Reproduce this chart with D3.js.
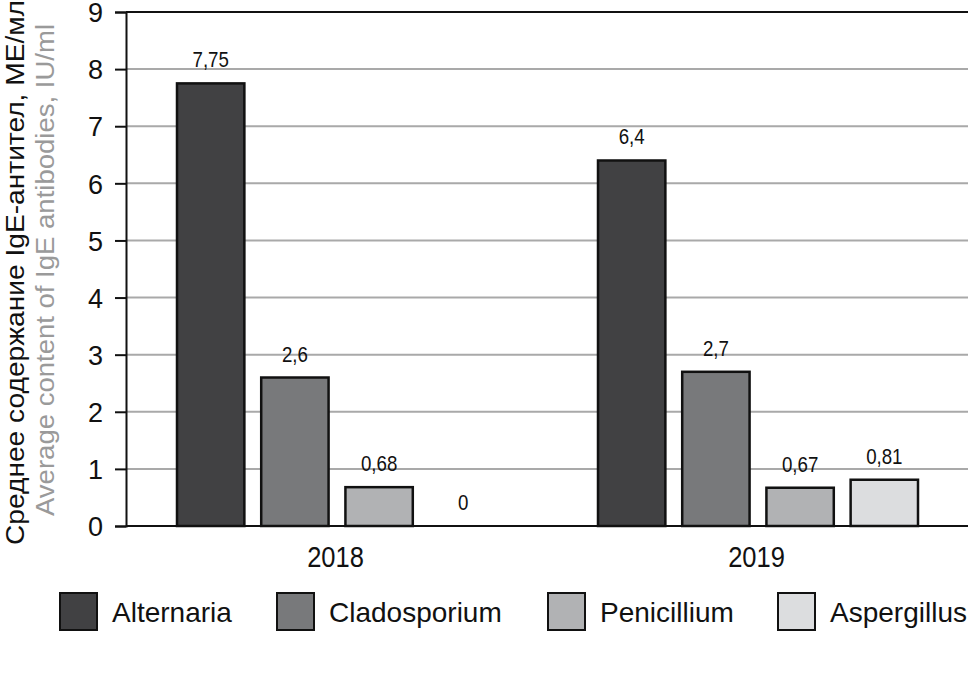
<!DOCTYPE html>
<html>
<head>
<meta charset="utf-8">
<script src="https://cdn.jsdelivr.net/npm/d3@7"></script>
<style>
  body { margin: 0; background: #fff; }
  text { font-family: "Liberation Sans", Arial, sans-serif; }
</style>
</head>
<body>
<script>
// data
const years = ['2018', '2019'];
const fungi = ['Alternaria', 'Cladosporium', 'Penicillium', 'Aspergillus'];
const values2018 = [7.75, 2.6, 0.68, 0];
const values2019 = [6.4, 2.7, 0.67, 0.81];
const valueLabels2018 = ['7,75', '2,6', '0,68', '0'];
const valueLabels2019 = ['6,4', '2,7', '0,67', '0,81'];
const yTicks = [0, 1, 2, 3, 4, 5, 6, 7, 8, 9];
const colors = ['#414143', '#78797b', '#b1b2b4', '#dcdddf'];

let rows = [];
years.forEach((yr, j) => {
    let vals = j == 0 ? values2018 : values2019;
    let labs = j == 0 ? valueLabels2018 : valueLabels2019;
    fungi.forEach((f, i) => {
        rows.push({ year: yr, fungus: f, value: vals[i], label: labs[i] });
    });
});

let W = 970, H = 676;
let plotLeft = 126, plotRight = 968, plotTop = 12, plotBottom = 526;
let narrow = 0.85; // the picture uses a condensed face

let svg = d3.select('body')
    .append('svg')
    .attr('width', W)
    .attr('height', H);

let y = d3.scaleLinear()
    .domain([0, 9])
    .range([plotBottom, plotTop]);

let x0 = d3.scaleBand()
    .domain(years)
    .range([plotLeft, plotRight]);

let x1 = d3.scaleBand()
    .domain(fungi)
    .range([51, 371])
    .paddingInner(0.2);

let color = d3.scaleOrdinal().domain(fungi).range(colors);

// grid lines
svg.append('g')
    .selectAll('line')
    .data(yTicks.filter(d => d > 0 && d < 9))
    .enter()
    .append('line')
    .attr('x1', plotLeft)
    .attr('x2', plotRight)
    .attr('y1', d => y(d))
    .attr('y2', d => y(d))
    .style('stroke', '#a9a9a9')
    .style('stroke-width', 2);

// top line
svg.append('line')
    .attr('x1', plotLeft).attr('x2', plotRight)
    .attr('y1', y(9)).attr('y2', y(9))
    .style('stroke', '#111').style('stroke-width', 2);

// y axis
let yAxis = svg.append('g')
    .attr('transform', `translate(${plotLeft},0)`)
    .call(d3.axisLeft(y).tickValues(yTicks).tickSize(11).tickPadding(12).tickFormat(d3.format('d')));
yAxis.select('.domain').style('stroke', '#111').style('stroke-width', 2);
yAxis.selectAll('.tick line').style('stroke', '#111').style('stroke-width', 2);
yAxis.selectAll('.tick text')
    .style('font-family', '"Liberation Sans", Arial, sans-serif')
    .style('font-size', '27px')
    .attr('dy', '0.36em')
    .style('fill', '#111');

// bars
let groups = svg.append('g')
    .selectAll('g')
    .data(rows)
    .enter()
    .append('g')
    .attr('transform', d => `translate(${x0(d.year) + x1(d.fungus)},0)`);

groups.filter(d => d.value > 0)
    .append('rect')
    .attr('x', 0)
    .attr('width', x1.bandwidth())
    .attr('y', d => y(d.value))
    .attr('height', d => y(0) - y(d.value))
    .style('fill', d => color(d.fungus))
    .style('stroke', '#111')
    .style('stroke-width', 2.5);

groups.append('text')
    .attr('transform', d => `translate(${x1.bandwidth() / 2},${y(d.value) - 16}) scale(${narrow},1)`)
    .attr('text-anchor', 'middle')
    .style('font-size', '22px')
    .style('fill', '#111')
    .text(d => d.label);

// baseline
svg.append('line')
    .attr('x1', plotLeft).attr('x2', plotRight)
    .attr('y1', y(0)).attr('y2', y(0))
    .style('stroke', '#111').style('stroke-width', 2);

// x labels
svg.append('g')
    .selectAll('text')
    .data(years)
    .enter()
    .append('text')
    .attr('transform', d => `translate(${x0(d) + x0.bandwidth() / 2 - 1},567) scale(${narrow},1)`)
    .attr('text-anchor', 'middle')
    .style('font-size', '30px')
    .style('fill', '#111')
    .text(d => d);

// y title, two lines
svg.append('text')
    .attr('transform', 'translate(24,545) rotate(-90)')
    .attr('textLength', 545)
    .attr('lengthAdjust', 'spacingAndGlyphs')
    .style('font-size', '25px')
    .style('fill', '#111')
    .text('Среднее содержание IgE-антител, МЕ/мл');

svg.append('text')
    .attr('transform', 'translate(54,516) rotate(-90)')
    .attr('textLength', 492)
    .attr('lengthAdjust', 'spacingAndGlyphs')
    .style('font-size', '25px')
    .style('fill', '#9a9a9a')
    .text('Average content of IgE antibodies, IU/ml');

// legend
let legendX = [60, 277, 548, 778];
let legend = svg.append('g')
    .selectAll('g')
    .data(fungi)
    .enter()
    .append('g')
    .attr('transform', (d, i) => `translate(${legendX[i]},593)`);

legend.append('rect')
    .attr('width', 37)
    .attr('height', 37)
    .style('fill', d => color(d))
    .style('stroke', '#111')
    .style('stroke-width', 2);

legend.append('text')
    .attr('x', 52)
    .attr('y', 29)
    .style('font-size', '28px')
    .style('fill', '#111')
    .text(d => d);
</script>
</body>
</html>
